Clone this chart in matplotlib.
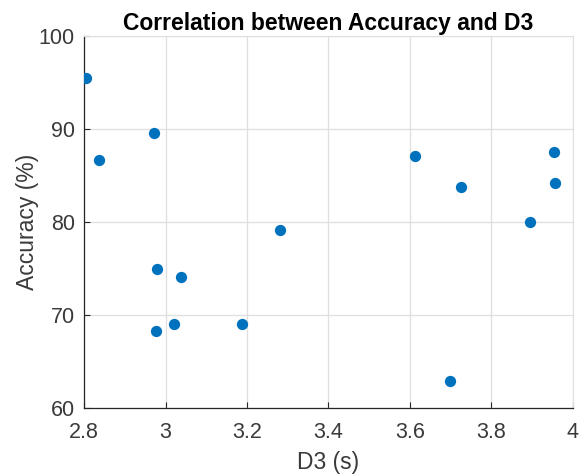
import matplotlib
matplotlib.use("Agg")
import matplotlib.pyplot as plt

# data
d3_s = [2.806, 2.972, 2.838, 2.979, 3.038, 2.977, 3.020, 3.188, 3.281,
        3.612, 3.726, 3.953, 3.956, 3.895, 3.698]
accuracy_pct = [95.5, 89.6, 86.7, 75.0, 74.1, 68.3, 69.1, 69.1, 79.2,
                87.1, 83.8, 87.5, 84.2, 80.0, 62.9]

x_ticks = [2.8, 3.0, 3.2, 3.4, 3.6, 3.8, 4.0]
x_tick_labels = ["2.8", "3", "3.2", "3.4", "3.6", "3.8", "4"]
y_ticks = [60, 70, 80, 90, 100]

plt.rcParams["font.family"] = ["Liberation Sans", "DejaVu Sans"]

fig = plt.figure(figsize=(5.81, 4.76), dpi=100)
ax = fig.add_axes([0.1446, 0.1422, 0.8416, 0.7822])

ax.scatter(d3_s, accuracy_pct, s=66, color="#0072BD", zorder=3, linewidths=0)

ax.set_xlim(2.8, 4.0)
ax.set_ylim(60, 100)
ax.set_xticks(x_ticks)
ax.set_xticklabels(x_tick_labels)
ax.set_yticks(y_ticks)

ax.grid(True, color="#dfdfdf", linewidth=0.9)
ax.set_axisbelow(True)

for side in ["top", "right"]:
    ax.spines[side].set_color("#dfdfdf")
for side in ["left", "bottom"]:
    ax.spines[side].set_color("#262626")
    ax.spines[side].set_linewidth(0.9)

ax.tick_params(direction="in", length=4, color="#262626", labelcolor="#3a3a3a",
               labelsize=15.5, top=False, right=False)
ax.tick_params(axis="x", pad=9.5)
ax.tick_params(axis="y", pad=6.5)

ax.set_xlabel("D3 (s)", fontsize=16.5, color="#3a3a3a", labelpad=6)
ax.set_ylabel("Accuracy (%)", fontsize=16.5, color="#3a3a3a", labelpad=0)
ax.set_title("Correlation between Accuracy and D3", fontsize=16.5,
             fontweight="bold", pad=4.5)

fig.savefig("out.png", dpi=100)
